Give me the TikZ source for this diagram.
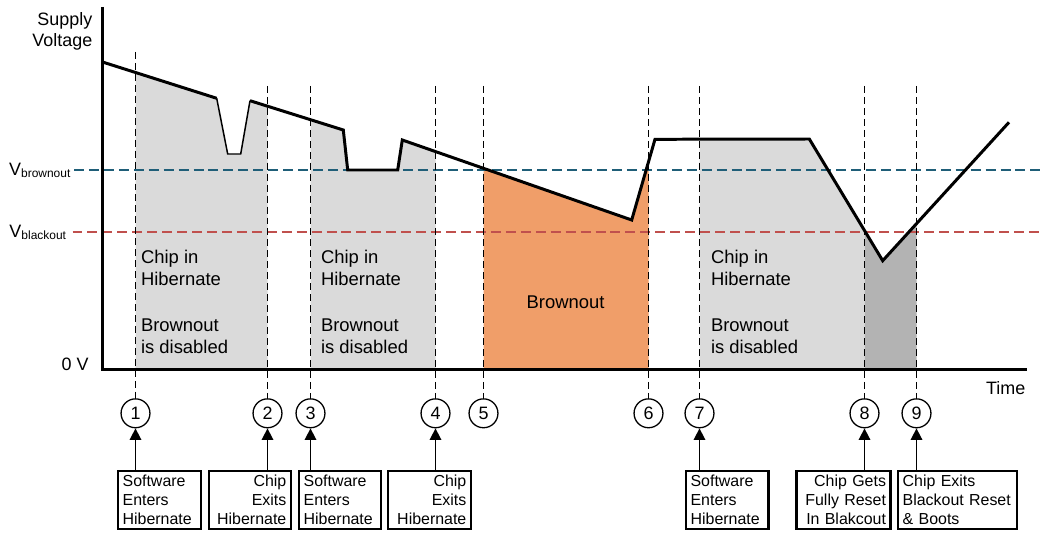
\documentclass[tikz,border=0pt]{standalone}
\usepackage{fontspec}
\setmainfont{Liberation Sans}
\usetikzlibrary{arrows.meta}
\definecolor{hibgray}{HTML}{DADADA}
\definecolor{rstgray}{HTML}{B3B3B3}
\definecolor{brnorange}{HTML}{F09E69}
\definecolor{brnline}{HTML}{1F5E78}
\definecolor{blkline}{HTML}{C0504D}

\begin{document}
\begin{tikzpicture}[x=1bp,y=-1bp,>={Triangle[length=11.5pt,width=11.5pt]},
  vline/.style={dash pattern=on 7pt off 4pt,line width=1.7pt},
  level line/.style={dash pattern=on 10pt off 5pt,line width=1.4pt},
  supply/.style={line width=3pt,line join=miter},
  dip/.style={line width=1.5pt},
  axis line/.style={line width=3.2pt,line join=miter},
  event node/.style={circle,draw,line width=1.3pt,minimum size=29pt,inner sep=0pt,
    font=\fontsize{18}{18}\selectfont},
  note box/.style={draw,line width=2.2pt,inner xsep=4.5pt,inner ysep=2pt,minimum height=59pt,
    font=\fontsize{16}{19}\selectfont},
  state label/.style={anchor=north west,inner sep=0pt,align=left,
    font=\fontsize{18.5}{22.7}\selectfont},
  plain label/.style={inner sep=0pt,font=\fontsize{18}{21}\selectfont}]

  \useasboundingbox (0,0) rectangle (1040,533);

  \coordinate (p0) at (102.5,62);
  \coordinate (p1) at (216.7,98.3);
  \coordinate (p2) at (227.7,154);
  \coordinate (p3) at (240.7,154);
  \coordinate (p4) at (250,100.7);
  \coordinate (p5) at (343.3,130);
  \coordinate (p6) at (347.7,170);
  \coordinate (p7) at (397.7,170);
  \coordinate (p8) at (402.3,140);
  \coordinate (p9) at (631.7,220);
  \coordinate (p10) at (655,139.3);
  \coordinate (p11) at (809.3,139);
  \coordinate (p12) at (882.7,260.7);
  \coordinate (p13) at (1009,122.3);

  \fill[hibgray] (135.5,369.5) -- (135.5,72.5) -- (p1) -- (p2) -- (p3) -- (p4) -- (267.5,106.2) -- (267.5,369.5) -- cycle;
  \fill[hibgray] (310.5,369.5) -- (310.5,119.6) -- (p5) -- (p6) -- (p7) -- (p8) -- (435.5,151.6) -- (435.5,369.5) -- cycle;
  \fill[brnorange] (483.5,369.5) -- (483.5,168.3) -- (p9) -- (648.5,161.8) -- (648.5,369.5) -- cycle;
  \fill[hibgray] (699.5,369.5) -- (699.5,139.2) -- (p11) -- (864.5,230.5) -- (864.5,369.5) -- cycle;
  \fill[rstgray] (864.5,369.5) -- (864.5,230.5) -- (p12) -- (916.5,223.7) -- (916.5,369.5) -- cycle;

  \node[plain label,anchor=base west] (vbo) at (9,175.5) {V\raisebox{-1.8pt}{\fontsize{12}{12}\selectfont brownout}};
  \node[plain label,anchor=base west] (vbl) at (9.3,237.7) {V\raisebox{-1.8pt}{\fontsize{12}{12}\selectfont blackout}};
  \coordinate (bo0) at (74,170);
  \coordinate (bo1) at (1040,170);
  \coordinate (bl0) at (72.5,232);
  \coordinate (bl1) at (1040,232);
  \draw[level line,brnline] (bo0) -- (bo1);
  \draw[level line,blkline] (bl0) -- (bl1);

  \node[event node] (c1) at (135.5,413.3) {1};
  \node[event node] (c2) at (267.5,413.3) {2};
  \node[event node] (c3) at (310.5,413.3) {3};
  \node[event node] (c4) at (435.5,413.3) {4};
  \node[event node] (c5) at (483.5,413.3) {5};
  \node[event node] (c6) at (648.5,413.3) {6};
  \node[event node] (c7) at (699.5,413.3) {7};
  \node[event node] (c8) at (864.5,413.3) {8};
  \node[event node] (c9) at (916.5,413.3) {9};

  \coordinate (t1) at (135.5,52);
  \coordinate (t2) at (267.5,86);
  \coordinate (t3) at (310.5,86);
  \coordinate (t4) at (435.5,86);
  \coordinate (t5) at (483.5,86);
  \coordinate (t6) at (648.5,86);
  \coordinate (t7) at (699.5,86);
  \coordinate (t8) at (864.5,86);
  \coordinate (t9) at (916.5,86);

  \path[vline]
    (t1) edge (c1)
    (t2) edge (c2)
    (t3) edge (c3)
    (t4) edge (c4)
    (t5) edge (c5)
    (t6) edge (c6)
    (t7) edge (c7)
    (t8) edge (c8)
    (t9) edge (c9);

  \draw[supply] (p0) -- (p1);
  \draw[dip] (p1) -- (p2) -- (p3) -- (p4);
  \draw[supply] (p4) -- (p5) -- (p6) -- (p7) -- (p8) -- (p9) -- (p10) -- (p11) -- (p12) -- (p13);

  \draw[axis line] (102.5,7) -- (102.5,369.5) -- (1027,369.5);

  \node[plain label,anchor=north east,align=right] (sv) at (92.5,12) {Supply\\Voltage};
  \node[plain label,anchor=base east] (zv) at (88.7,370.3) {0 V};
  \node[plain label,anchor=base east] (tm) at (1025.5,394) {Time};

  \node[state label] (s1) at (140.8,249.8) {Chip in\\Hibernate\\[22.7pt]Brownout\\is disabled};
  \node[state label] (s2) at (320.8,249.8) {Chip in\\Hibernate\\[22.7pt]Brownout\\is disabled};
  \node[state label] (s3) at (710.8,249.8) {Chip in\\Hibernate\\[22.7pt]Brownout\\is disabled};
  \node[plain label,anchor=base,font=\fontsize{18.5}{22.7}\selectfont] (bn) at (565.5,308.3) {Brownout};

  \node[note box,text width=74pt,align=left] (b1) at (159.5,500) {Software\\Enters\\Hibernate};
  \node[note box,text width=73.5pt,align=right] (b2) at (249.7,500) {Chip\\Exits\\Hibernate};
  \node[note box,text width=73.3pt,align=left] (b3) at (340.2,500) {Software\\Enters\\Hibernate};
  \node[note box,text width=74pt,align=right] (b4) at (429.5,500) {Chip\\Exits\\Hibernate};
  \node[note box,text width=73.7pt,align=left] (b7) at (727.3,500) {Software\\Enters\\Hibernate};
  \node[note box,text width=85.3pt,align=right] (b8) at (843.5,500) {Chip Gets\\Fully Reset\\In Blakcout};
  \node[note box,text width=110pt,align=left] (b9) at (957.5,500) {Chip Exits\\Blackout Reset\\\& Boots};

  \path[->,line width=1.6pt]
    (b1.north -| c1) edge (c1)
    (b2.north -| c2) edge (c2)
    (b3.north -| c3) edge (c3)
    (b4.north -| c4) edge (c4)
    (b7.north -| c7) edge (c7)
    (b8.north -| c8) edge (c8)
    (b9.north -| c9) edge (c9);
\end{tikzpicture}
\end{document}
